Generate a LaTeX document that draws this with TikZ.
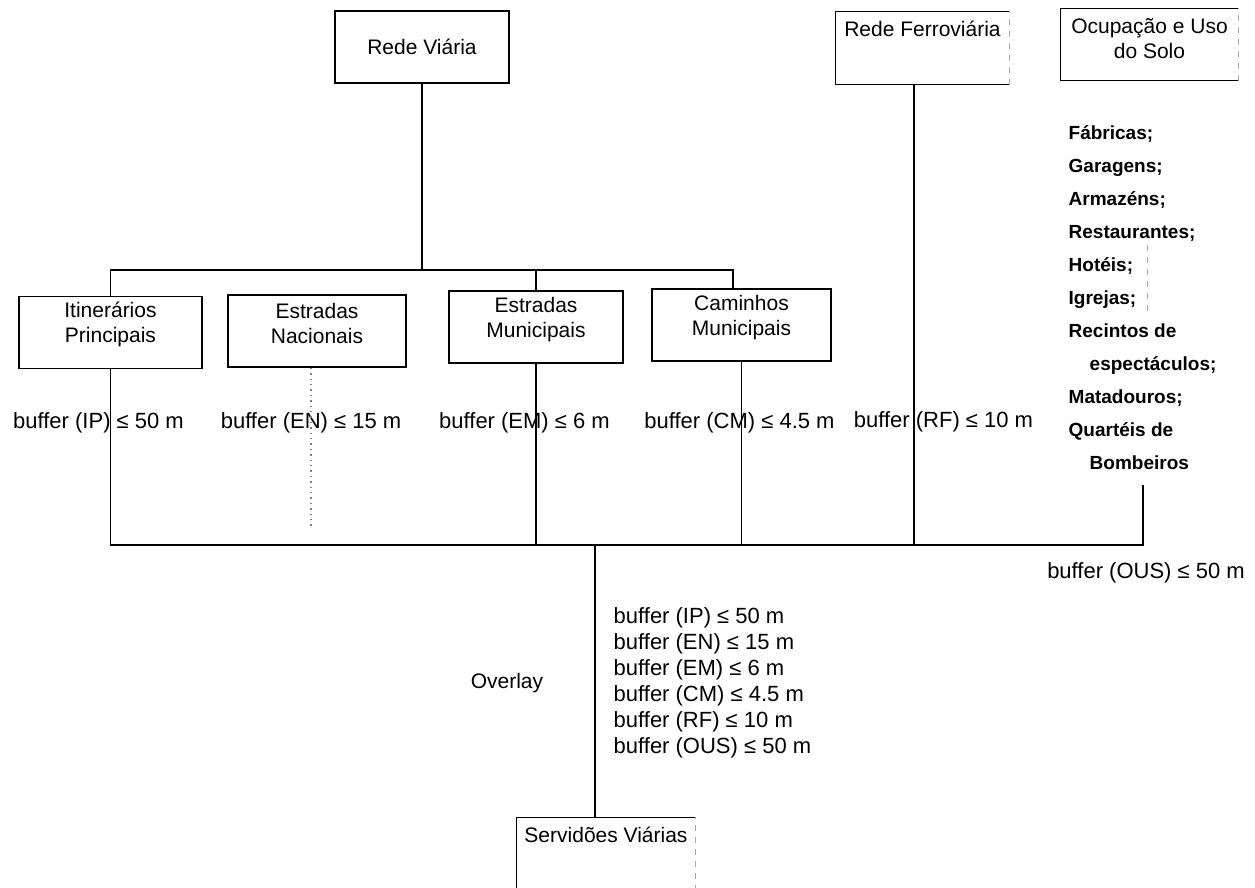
\documentclass[tikz,border=0pt]{standalone}
\usepackage{fontspec}
\setmainfont{Liberation Sans}
\usetikzlibrary{positioning}
\newcommand{\boxfont}{\fontsize{10.5}{12.5}\selectfont}
\newcommand{\buffont}{\fontsize{11}{13}\selectfont}
\newcommand{\lstfont}{\fontsize{9.5}{16.5}\selectfont\bfseries}
\tikzset{
    box/.style={draw, rectangle, inner sep=0pt, minimum height=36pt}, % caixas fechadas
    openbox/.style={rectangle, inner sep=0pt, minimum height=36pt}, % caixas com lado direito tracejado
    lbl/.style={anchor=center, align=center, font=\boxfont}, % texto dentro das caixas
    buf/.style={font=\buffont, inner sep=1pt}, % textos dos buffers
    lst/.style={font=\lstfont, align=left, inner sep=0pt}, % lista de ocupacao
    faint/.style={gray!70, line width=0.4pt}, % linhas fracas
}

\begin{document}
\begin{tikzpicture}[x=0.5pt, y=-0.5pt, line width=0.7pt]
\useasboundingbox (0,0) rectangle (1255,888);
\clip (0,0) rectangle (1255,888);

% temas de base
\node[box, minimum width=87pt, font=\boxfont] (rv) at (422,47) {Rede Viária};
\node[openbox, minimum width=86.5pt, label={[lbl, name=rft, yshift=-9pt]north:Rede Ferroviária}] (rf) at (922.5,48) {};
\node[openbox, minimum width=88.5pt, minimum height=35.5pt, label={[lbl, name=oust, yshift=-15pt]north:{Ocupação e Uso\\do Solo}}] (ous) at (1149.5,44.5) {};

% classes de estradas
\node[box, minimum width=91.5pt, label={[lbl, name=ipt, yshift=-14.5pt]north:{Itinerários\\Principais}}] (ip) at (110.5,332.5) {};
\node[box, minimum width=89pt, label={[lbl, name=ent, yshift=-14.5pt]north:{Estradas\\Nacionais}}] (en) at (317,331) {};
\node[box, minimum width=87pt, label={[lbl, name=emt, yshift=-14.5pt]north:{Estradas\\Municipais}}] (em) at (536,327) {};
\node[box, minimum width=89.5pt, label={[lbl, name=cmt, yshift=-14.5pt]north:{Caminhos\\Municipais}}] (cm) at (741.5,325) {};

% buffers
\node[buf] (bip) at (98.5,423) {buffer (IP) ≤ 50 m};
\node[buf] (ben) at (311,423) {buffer (EN) ≤ 15 m};
\node[buf] (bem) at (524.5,423) {buffer (EM) ≤ 6 m};
\node[buf] (bcm) at (739.5,423) {buffer (CM) ≤ 4.5 m};
\node[buf] (brf) at (943.5,422) {buffer (RF) ≤ 10 m};
\node[buf] (bous) at (1146,573) {buffer (OUS) ≤ 50 m};

% ocupacao e uso do solo
\node[lst, anchor=west] (ousl) at (1068,298) {Fábricas;\\Garagens;\\Armazéns;\\Restaurantes;\\Hotéis;\\Igrejas;\\Recintos de\\\hspace*{10.5pt}espectáculos;\\Matadouros;\\Quartéis de\\\hspace*{10.5pt}Bombeiros};

% overlay e resultado
\node[buf, font=\boxfont] (ovl) at (507,683) {Overlay};
\node[buf, anchor=west, align=left] (bls) at (611,683) {buffer (IP) ≤ 50 m\\buffer (EN) ≤ 15 m\\buffer (EM) ≤ 6 m\\buffer (CM) ≤ 4.5 m\\buffer (RF) ≤ 10 m\\buffer (OUS) ≤ 50 m};
\node[openbox, minimum width=89pt, minimum height=42pt, label={[lbl, name=svt, yshift=-9pt]north:Servidões Viárias}] (sv) at (606,860) {};

\coordinate (jt) at (422,270);
\coordinate (jb) at (595,545);
\coordinate (ouse) at (1143,485);
\coordinate (ene) at (311,527);
\coordinate (rfs) at ([xshift=-4.25pt]rf.south);
\coordinate (cmn) at ([xshift=-4.25pt]cm.north);

% ligacoes
\draw (rv) -- (jt);
\draw (ip.north) |- (jt) -| (cmn);
\draw (jt -| em.north) -- (em.north);
\draw (ip.south) |- (jb) -| (ouse);
\draw (em.south) -- (em.south |- jb);
\draw (cm.south) -- (cm.south |- jb);
\draw (rfs) -- (rfs |- jb);
\draw (jb) -- (jb |- sv.north);
\draw[dotted, gray] (en.south -| ene) -- (ene);

\foreach \n in {rf, ous, sv} {
    \draw (\n.north east) -- (\n.north west) -- (\n.south west) -- (\n.south east);
    \draw[faint, dashed] (\n.south east) -- (\n.north east);
}
\draw[faint, dashed] (1147,245) -- (1147,312);
\end{tikzpicture}
\end{document}
